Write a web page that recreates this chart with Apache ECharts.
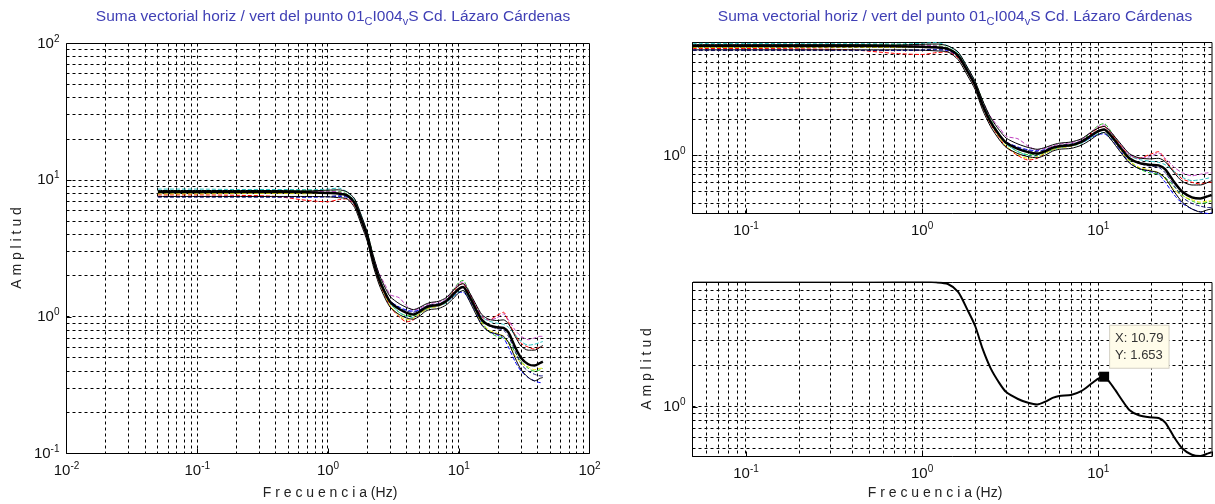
<!DOCTYPE html>
<html><head><meta charset="utf-8">
<script src="https://cdn.jsdelivr.net/npm/echarts@6/dist/echarts.min.js"></script>
<style>html,body{margin:0;padding:0;background:#fff;}#c{width:1215px;height:504px;}</style>
</head><body><div id="c"></div>
<script>
// ---------------- data ----------------
const freq = [0.05, 0.1, 0.2, 0.4, 0.7, 1.0, 1.2, 1.4, 1.6, 1.8, 2.0, 2.2, 2.45, 2.75, 3.0, 3.5, 4.0, 4.5, 5.0, 5.5, 6.0, 7.0, 8.0, 9.0, 10.0, 10.8, 11.5, 12.5, 13.5, 15.0, 17.0, 19.5, 22.0, 24.0, 27.0, 30.0, 34.0, 38.0, 42.0, 44.0];
const ampMean = [8.2, 8.2, 8.2, 8.2, 8.15, 8.05, 7.98, 7.75, 6.8, 5.1, 3.85, 2.65, 1.9, 1.48, 1.28, 1.14, 1.07, 1.04, 1.09, 1.16, 1.2, 1.22, 1.3, 1.45, 1.6, 1.653, 1.53, 1.32, 1.14, 0.95, 0.87, 0.84, 0.83, 0.77, 0.6, 0.5, 0.45, 0.44, 0.46, 0.47];
const ampUpper = [8.4, 8.4, 8.4, 8.4, 8.35, 8.45, 8.5, 8.2, 7.3, 5.5, 4.15, 2.9, 2.07, 1.62, 1.4, 1.25, 1.17, 1.13, 1.17, 1.23, 1.27, 1.3, 1.38, 1.55, 1.7, 1.75, 1.63, 1.42, 1.24, 1.04, 0.96, 0.94, 0.95, 0.89, 0.72, 0.61, 0.57, 0.57, 0.6, 0.62];
const ampLower = [7.6, 7.6, 7.6, 7.6, 7.6, 7.55, 7.45, 7.3, 6.3, 4.7, 3.55, 2.42, 1.74, 1.35, 1.17, 1.04, 0.98, 0.96, 1.01, 1.09, 1.13, 1.15, 1.22, 1.35, 1.5, 1.56, 1.43, 1.22, 1.05, 0.87, 0.78, 0.75, 0.72, 0.65, 0.5, 0.41, 0.36, 0.34, 0.355, 0.36];
const ampCyan = [8.6, 8.6, 8.55, 8.55, 8.5, 8.6, 8.75, 8.2, 7.2, 5.5, 4.0, 2.75, 1.95, 1.5, 1.25, 1.08, 1.0, 0.99, 1.05, 1.12, 1.16, 1.2, 1.26, 1.4, 1.52, 1.56, 1.46, 1.3, 1.15, 1.0, 0.93, 0.9, 0.88, 0.84, 0.74, 0.66, 0.62, 0.63, 0.65, 0.66];
const ampMagenta = [8.1, 8.1, 8.15, 8.1, 8.2, 8.3, 8.2, 7.8, 6.9, 5.3, 4.0, 2.85, 2.1, 1.7, 1.45, 1.38, 1.2, 1.12, 1.15, 1.2, 1.25, 1.28, 1.35, 1.55, 1.75, 1.8, 1.65, 1.42, 1.22, 1.02, 0.95, 0.98, 1.05, 0.95, 0.8, 0.72, 0.68, 0.7, 0.72, 0.72];
const ampRed = [7.8, 7.8, 7.75, 7.6, 7.1, 6.95, 7.2, 7.3, 6.5, 5.0, 3.7, 2.55, 1.82, 1.4, 1.18, 1.0, 0.92, 0.95, 1.05, 1.12, 1.17, 1.2, 1.3, 1.5, 1.7, 1.75, 1.6, 1.38, 1.2, 1.0, 0.95, 1.02, 1.08, 0.92, 0.74, 0.64, 0.6, 0.58, 0.6, 0.6];
const ampGreen = [8.3, 8.3, 8.35, 8.4, 8.45, 8.35, 8.3, 7.9, 7.0, 5.4, 4.1, 2.9, 2.0, 1.5, 1.25, 1.08, 1.02, 1.02, 1.06, 1.12, 1.17, 1.22, 1.32, 1.55, 1.78, 1.85, 1.68, 1.4, 1.15, 0.92, 0.78, 0.72, 0.7, 0.66, 0.55, 0.47, 0.42, 0.4, 0.41, 0.42];
const ampYellow = [7.95, 7.95, 8.0, 8.0, 7.95, 8.0, 8.05, 7.7, 6.7, 5.0, 3.8, 2.6, 1.85, 1.42, 1.2, 1.02, 0.95, 0.98, 1.05, 1.12, 1.16, 1.2, 1.28, 1.45, 1.62, 1.66, 1.52, 1.3, 1.1, 0.9, 0.8, 0.76, 0.72, 0.64, 0.52, 0.46, 0.43, 0.41, 0.42, 0.42];
const ampBlue = [7.6, 7.6, 7.6, 7.55, 7.5, 7.55, 7.6, 7.5, 6.6, 5.0, 3.75, 2.6, 1.88, 1.48, 1.3, 1.18, 1.12, 1.1, 1.12, 1.17, 1.2, 1.22, 1.28, 1.4, 1.5, 1.52, 1.42, 1.25, 1.08, 0.88, 0.78, 0.74, 0.7, 0.6, 0.47, 0.4, 0.36, 0.34, 0.33, 0.335];
const ampNavy = [7.5, 7.5, 7.5, 7.5, 7.55, 7.6, 7.7, 7.6, 6.7, 5.1, 3.9, 2.7, 1.95, 1.5, 1.3, 1.17, 1.1, 1.08, 1.12, 1.18, 1.22, 1.25, 1.32, 1.48, 1.62, 1.66, 1.54, 1.33, 1.15, 0.95, 0.86, 0.82, 0.8, 0.72, 0.56, 0.45, 0.4, 0.38, 0.37, 0.37];
const dataTip = [10.79, 1.653];

const leftXRange = [0.01, 100];
const leftYRange = [0.1, 100];
const rightXRange = [0.0497, 44.2];
const rtYRange = [0.33, 8.75];
const rbYRange = [0.437, 7.95];
const decadeTicks = [0.01, 0.1, 1, 10, 100];

const titleText = '{a|Suma vectorial horiz / vert del punto 01}{s|C}{a|I004}{s|v}{a|S Cd. Lázaro Cárdenas}';
const yName = 'A m p l i t u d';
const xName = 'F r e c u e n c i a (Hz)';

// ---------------- helpers ----------------
const FONT = 'Liberation Sans, Arial, sans-serif';
function pairs(ys) { return freq.map((f, i) => [f, ys[i]]); }
function gridValues(r) {
  const out = [];
  for (let k = -3; k <= 3; k++) for (let m = 1; m <= 9; m++) {
    const v = +(m * Math.pow(10, k)).toPrecision(6);
    if (v >= r[0] * 1.0001 && v <= r[1] * 0.9999) out.push(v);
  }
  return out;
}
function expLabel(v) {
  const l = Math.log10(v), e = Math.round(l);
  if (Math.abs(l - e) > 1e-6 || decadeTicks.indexOf(+Math.pow(10, e).toPrecision(6)) < 0) return '';
  return '{b|10}{e|' + e + '}';
}
const labRich = {
  b: { fontSize: 15, fontFamily: FONT, color: '#111' },
  e: { fontSize: 10, fontFamily: FONT, color: '#111', verticalAlign: 'top', padding: [0, 0, 9, 0] }
};
function xAx(gi, r) {
  return { type: 'log', logBase: 10, gridIndex: gi, min: r[0], max: r[1],
    axisLine: { show: false }, splitLine: { show: false },
    axisTick: { show: true, inside: true, length: 5, lineStyle: { color: '#000' } },
    axisLabel: { interval: 0, margin: 8, formatter: expLabel, rich: labRich, hideOverlap: false } };
}
function yAx(gi, r) {
  return { type: 'log', logBase: 10, gridIndex: gi, min: r[0], max: r[1],
    axisLine: { show: false }, splitLine: { show: false },
    axisTick: { show: true, inside: true, length: 5, lineStyle: { color: '#000' } },
    axisLabel: { interval: 0, margin: 7, formatter: expLabel, rich: labRich, hideOverlap: false } };
}
// dashed grid lines at 1..9 x 10^k, placed through the axes' own scales
function gridSeries(gi, xr, yr) {
  const d = gridValues(xr).map(v => [v, yr[0], 0]).concat(gridValues(yr).map(v => [xr[0], v, 1]));
  return { type: 'custom', xAxisIndex: gi, yAxisIndex: gi, data: d, z: 1, silent: true,
    encode: { x: 0, y: 1 },
    renderItem: function (params, api) {
      const cs = params.coordSys;
      const p = api.coord([api.value(0), api.value(1)]);
      const st = { stroke: '#000', lineWidth: 1, lineDash: [3, 3] };
      if (api.value(2) === 0) {
        const x = Math.floor(p[0]) + 0.5;
        return { type: 'line', shape: { x1: x, y1: cs.y, x2: x, y2: cs.y + cs.height }, style: st };
      }
      const y = Math.floor(p[1]) + 0.5;
      return { type: 'line', shape: { x1: cs.x, y1: y, x2: cs.x + cs.width, y2: y }, style: st };
    } };
}
const colored = [
  { d: ampBlue, c: '#0000ff' }, { d: ampGreen, c: '#22c322' }, { d: ampRed, c: '#ff0000' },
  { d: ampCyan, c: '#22c0c0' }, { d: ampMagenta, c: '#c040c0' }, { d: ampYellow, c: '#e6e600' },
  { d: ampNavy, c: '#1a1a80' }
];
function curveSeries(gi) {
  const s = [];
  colored.forEach(o => s.push({ type: 'line', xAxisIndex: gi, yAxisIndex: gi, data: pairs(o.d), showSymbol: false,
    smooth: 0.25, z: 3, lineStyle: { color: o.c, width: 1, type: [4, 2] } }));
  [ampUpper, ampLower].forEach(a => s.push({ type: 'line', xAxisIndex: gi, yAxisIndex: gi, data: pairs(a), showSymbol: false,
    smooth: 0.25, z: 4, lineStyle: { color: '#000', width: 1 } }));
  s.push({ type: 'line', xAxisIndex: gi, yAxisIndex: gi, data: pairs(ampMean), showSymbol: false,
    smooth: 0.25, z: 5, lineStyle: { color: '#000', width: 2.5 } });
  return s;
}
const TCOL = '#3f3fb5';
const titleRich = {
  a: { fontSize: 15.5, fontFamily: FONT, fontWeight: 'normal', color: TCOL, lineHeight: 20 },
  s: { fontSize: 11, fontFamily: FONT, fontWeight: 'normal', color: TCOL, verticalAlign: 'bottom', lineHeight: 8 }
};

const chart = echarts.init(document.getElementById('c'), null, { renderer: 'canvas' });
chart.setOption({
  animation: false,
  backgroundColor: '#fff',
  title: [
    { text: titleText, left: 328, top: 2, textAlign: 'center', textStyle: { fontWeight: 'normal', rich: titleRich } },
    { text: titleText, left: 950, top: 2, textAlign: 'center', textStyle: { fontWeight: 'normal', rich: titleRich } }
  ],
  grid: [
    { left: 66.5, top: 43.5, width: 523, height: 410, show: true, borderColor: '#000', borderWidth: 1, backgroundColor: '#fff' },
    { left: 692.5, top: 42.5, width: 521, height: 171, show: true, borderColor: '#000', borderWidth: 1, backgroundColor: '#fff' },
    { left: 692.5, top: 282.5, width: 521, height: 174, show: true, borderColor: '#000', borderWidth: 1, backgroundColor: '#fff' }
  ],
  xAxis: [xAx(0, leftXRange), xAx(1, rightXRange), xAx(2, rightXRange)],
  yAxis: [yAx(0, leftYRange), yAx(1, rtYRange), yAx(2, rbYRange)],
  graphic: [
    { type: 'text', x: 17, y: 248, rotation: Math.PI / 2, style: { text: yName, font: '14px ' + FONT, fill: '#222', align: 'center', verticalAlign: 'middle' } },
    { type: 'text', x: 647, y: 369, rotation: Math.PI / 2, style: { text: yName, font: '14px ' + FONT, fill: '#222', align: 'center', verticalAlign: 'middle' } },
    { type: 'text', x: 330, y: 493, style: { text: xName, font: '14px ' + FONT, fill: '#222', align: 'center', verticalAlign: 'middle' } },
    { type: 'text', x: 935, y: 493, style: { text: xName, font: '14px ' + FONT, fill: '#222', align: 'center', verticalAlign: 'middle' } }
  ],
  series: [
    gridSeries(0, leftXRange, leftYRange),
    gridSeries(1, rightXRange, rtYRange),
    gridSeries(2, rightXRange, rbYRange)
  ].concat(curveSeries(0), curveSeries(1), [
    { type: 'line', xAxisIndex: 2, yAxisIndex: 2, data: pairs(ampMean), showSymbol: false, smooth: 0.25, z: 5,
      lineStyle: { color: '#000', width: 2 },
      markPoint: { silent: true, animation: false, data: [{
        coord: dataTip, symbol: 'rect', symbolSize: 10, itemStyle: { color: '#000' },
        label: { show: true, position: [11, -46], formatter: 'X: ' + dataTip[0] + '\nY: ' + dataTip[1],
          fontFamily: FONT, fontSize: 13, lineHeight: 17, color: '#333', backgroundColor: '#fffcea',
          borderColor: '#d4d0c4', borderWidth: 1, padding: [4, 5, 4, 5], align: 'left', verticalAlign: 'top' } }] } }
  ])
});
</script></body></html>
